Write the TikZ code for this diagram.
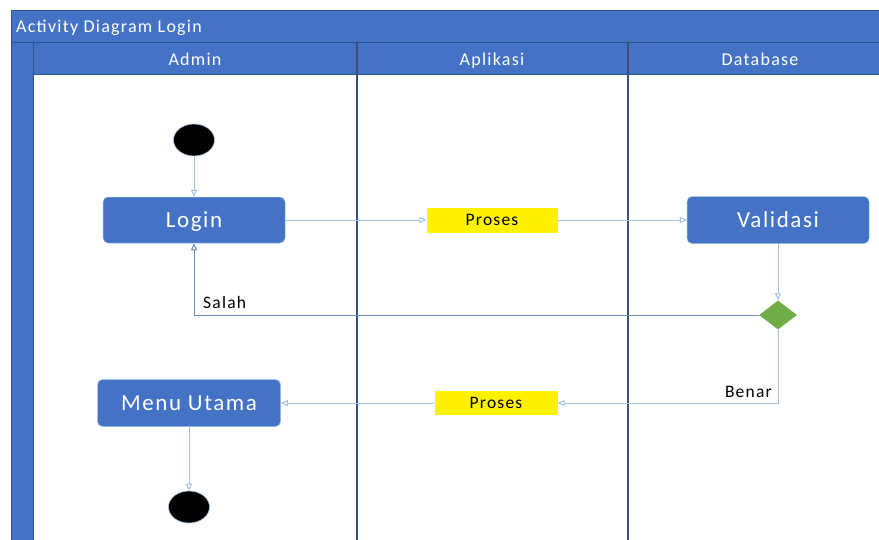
\documentclass[tikz,border=0pt]{standalone}
\usepackage{fontspec}
\setmainfont[LetterSpace=7]{Carlito}
\usetikzlibrary{arrows.meta,shapes.geometric}
\definecolor{hdr}{HTML}{4472C4}
\definecolor{hdrline}{HTML}{2F528F}
\definecolor{lane}{HTML}{3B4E7E}
\definecolor{conn}{HTML}{9DC3E6}
\definecolor{conndark}{HTML}{6A8FC8}
\definecolor{dec}{HTML}{70AD47}
\tikzset{
  hdrbox/.style={fill=hdr,draw=hdrline,line width=0.8pt},
  actbox/.style={rectangle,rounded corners=5pt,fill=hdr,draw=conn,line width=0.5pt,text=white,font=\fontsize{23}{26}\selectfont,inner sep=0pt,text height=14.5pt,text depth=0.5pt},
  procbox/.style={rectangle,fill=yellow,inner sep=0pt,font=\fontsize{17.5}{20}\selectfont,text height=11.5pt,text depth=0.5pt},
  dot/.style={ellipse,fill=black,draw=conn,line width=0.6pt,minimum width=41pt,minimum height=32pt,inner sep=0pt},
  flow/.style={draw=conn,line width=1pt,-{Triangle[open,length=7pt,width=6pt]}},
  lbl/.style={font=\fontsize{17.5}{20}\selectfont,inner sep=0pt},
  hdrtxt/.style={text=white,font=\fontsize{18}{21}\selectfont,inner sep=0pt,text height=12pt,text depth=0.5pt}
}
\begin{document}
\begin{tikzpicture}[x=1pt,y=-1pt]
\useasboundingbox (0,0) rectangle (879,539);
% pool
\fill[white] (0,0) rectangle (879,539);
\draw[hdrbox] (11,10) rectangle (882,42);
\draw[hdrbox] (11,42) rectangle (33,545);
\draw[hdrbox] (33,42) rectangle (882,74);
\draw[lane,line width=1.2pt] (357,42) -- (357,545);
\draw[lane,line width=1.2pt] (628,42) -- (628,545);
\draw[lane,line width=1pt] (33,74) -- (33,545);
\node[hdrtxt,anchor=west] (title) at (16,26.5) {Activity Diagram Login};
\node[hdrtxt] (hadmin) at (195,59.5) {Admin};
\node[hdrtxt] (haplikasi) at (492,59.5) {Aplikasi};
\node[hdrtxt] (hdb) at (760,59.5) {Database};
% nodes
\node[dot] (start) at (194,140) {};
\node[actbox,minimum width=182pt,minimum height=46pt] (login) at (194,220) {Login};
\node[procbox,minimum width=131pt,minimum height=25pt] (p1) at (492,220) {Proses};
\node[actbox,minimum width=182pt,minimum height=47pt] (valid) at (778,220) {Validasi};
\node[diamond,fill=dec,minimum width=38pt,minimum height=29pt,inner sep=0pt,aspect=1.3] (d) at (778,315) {};
\node[procbox,minimum width=123pt,minimum height=24pt] (p2) at (496,403) {Proses};
\node[actbox,minimum width=183pt,minimum height=47pt] (menu) at (189,403) {Menu Utama};
\node[dot] (end) at (189,507) {};
\coordinate (salahc) at (194,315);
\coordinate (benarc) at (778,403);
% connectors
\draw[flow] (start) -- (login);
\draw[flow] (login) -- (p1);
\draw[flow] (p1) -- (valid);
\draw[flow] (valid) -- (d);
\draw[draw=conndark,line width=1pt,-{Triangle[open,length=7pt,width=6pt]}] (d.west) -- (salahc) -- (login.south);
\draw[flow] (d.south) -- (benarc) -- (p2.east);
\draw[flow] (p2) -- (menu);
\draw[flow] (menu) -- (end);
\node[lbl,anchor=west] (salah) at (203,302) {Salah};
\node[lbl,anchor=east] (benar) at (772,392) {Benar};
\end{tikzpicture}
\end{document}
